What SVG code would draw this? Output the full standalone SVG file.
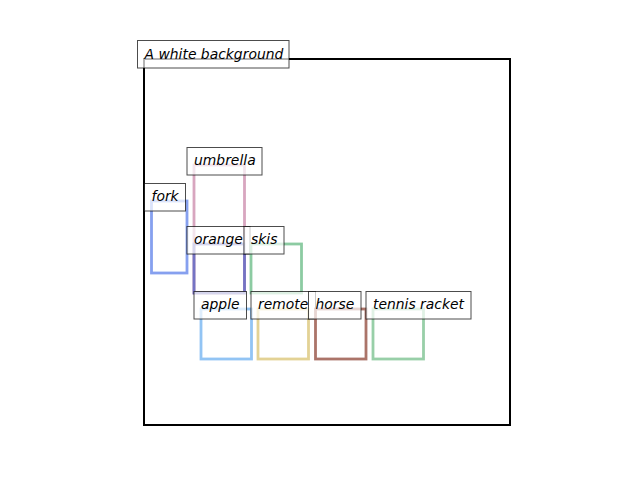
<svg xmlns="http://www.w3.org/2000/svg" width="640" height="480" viewBox="0 0 640 480">
<style>
.box{fill:none;stroke-width:2.8}
.lb{fill:#fff;fill-opacity:0.7;stroke:#000;stroke-opacity:0.7;stroke-width:1}
.t{font-family:"DejaVu Sans","Liberation Sans",sans-serif;font-style:italic;font-size:13.9px;fill:#000}
</style>
<rect width="640" height="480" fill="#fff"/>
<rect id="axes" x="144" y="59" width="366" height="366" fill="none" stroke="#000" stroke-width="2"/>
<g id="fork">
<rect class="box" x="151.5" y="201" width="35.5" height="72" stroke="#86a0ef"/>
<rect class="lb" x="144.5" y="183.5" width="41" height="27.5"/>
<text class="t" x="151.5" y="201">fork</text>
</g>
<g id="umbrella">
<rect class="box" x="194" y="165" width="50.5" height="128" stroke="#d8a6bf"/>
<rect class="lb" x="187" y="147.5" width="75" height="27.5"/>
<text class="t" x="194" y="165">umbrella</text>
</g>
<g id="orange">
<rect class="box" x="194" y="244" width="50.5" height="49" stroke="#7474c4"/>
<rect class="lb" x="187" y="226.5" width="63" height="27.5"/>
<text class="t" x="194" y="244">orange</text>
</g>
<g id="skis">
<rect class="box" x="251" y="244" width="50.5" height="49" stroke="#8ccba2"/>
<rect class="lb" x="244" y="226.5" width="40" height="27.5"/>
<text class="t" x="251" y="244">skis</text>
</g>
<g id="apple">
<rect class="box" x="201" y="309" width="50.5" height="50" stroke="#92c4f4"/>
<rect class="lb" x="194" y="291.5" width="52.5" height="27.5"/>
<text class="t" x="201" y="309">apple</text>
</g>
<g id="remote">
<rect class="box" x="258" y="309" width="50.5" height="50" stroke="#e3d295"/>
<rect class="lb" x="251" y="291.5" width="64.5" height="27.5"/>
<text class="t" x="258" y="309">remote</text>
</g>
<g id="horse">
<rect class="box" x="315.5" y="309" width="50.5" height="50" stroke="#ab7469"/>
<rect class="lb" x="308.5" y="291.5" width="52.5" height="27.5"/>
<text class="t" x="315.5" y="309">horse</text>
</g>
<g id="tennis-racket">
<rect class="box" x="373" y="309" width="50.5" height="50" stroke="#98cfa8"/>
<rect class="lb" x="366" y="291.5" width="105" height="27.5"/>
<text class="t" x="373" y="309">tennis racket</text>
</g>
<g id="title">
<rect class="lb" x="137.5" y="40.5" width="151.5" height="27.5"/>
<text class="t" x="144.5" y="58.5">A white background</text>
</g>
</svg>
